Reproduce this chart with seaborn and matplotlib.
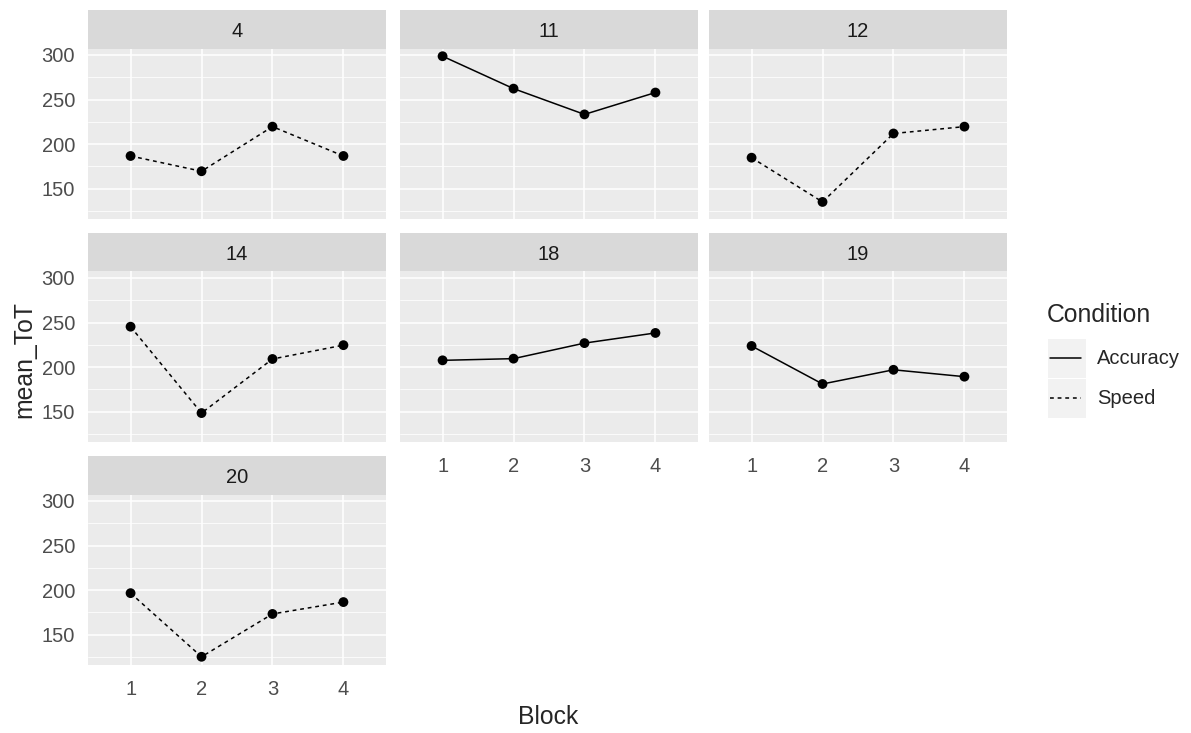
import numpy as np
import pandas as pd
import matplotlib
matplotlib.use("Agg")
import matplotlib.pyplot as plt
from matplotlib.patches import Rectangle
from matplotlib.lines import Line2D
import seaborn as sns

# dane
participants = [4, 11, 12, 14, 18, 19, 20]
conditions = ["Speed", "Accuracy", "Speed", "Speed", "Accuracy", "Accuracy", "Speed"]
blocks = [1, 2, 3, 4]
tot_4 = [186.7, 169.6, 219.6, 186.7]
tot_11 = [298.5, 262.2, 233.3, 257.8]
tot_12 = [184.8, 135.2, 211.9, 219.6]
tot_14 = [245.3, 148.5, 209.1, 224.6]
tot_18 = [207.6, 209.5, 226.9, 238.3]
tot_19 = [223.7, 181.1, 197.0, 189.3]
tot_20 = [196.6, 125.3, 173.3, 186.6]
all_tot = [tot_4, tot_11, tot_12, tot_14, tot_18, tot_19, tot_20]

rows = []
for p, c, vals in zip(participants, conditions, all_tot):
    for b, v in zip(blocks, vals):
        rows.append({"Participant": p, "Condition": c, "Block": b, "mean_ToT": v})
df = pd.DataFrame(rows)

sns.set_style("white")
plt.rcParams["font.family"] = ["Liberation Sans", "DejaVu Sans"]

W, H = 1191, 733
fig = plt.figure(figsize=(W / 100, H / 100), dpi=100)

def px_axes(x0, y0, x1, y1):
    return fig.add_axes([x0 / W, 1 - y1 / H, (x1 - x0) / W, (y1 - y0) / H])

col_left = [88, 400, 709]
panel_w = 298
row_top = [9.5, 232.5, 455.5]
strip_h = 39
panel_h = 170

lo, hi = df["mean_ToT"].min(), df["mean_ToT"].max()
pad = 0.05 * (hi - lo)
ylim = (lo - pad, hi + pad)

dashes = {"Accuracy": "", "Speed": (2.5, 2.5)}
bottom_panels = {18, 19, 20}
txt = 14.5
ttl = 17.8

for i, p in enumerate(participants):
    r, c = divmod(i, 3)
    x0 = col_left[c]
    st = row_top[r]
    # pasek z numerem uczestnika
    sax = px_axes(x0, st, x0 + panel_w, st + strip_h)
    sax.set_facecolor("#D9D9D9")
    sax.set_xticks([]); sax.set_yticks([])
    for s in sax.spines.values():
        s.set_visible(False)
    sax.text(0.5, 0.44, str(p), ha="center", va="center", fontsize=txt, color="#1A1A1A",
             transform=sax.transAxes)

    ax = px_axes(x0, st + strip_h, x0 + panel_w, st + strip_h + panel_h)
    ax.set_facecolor("#EBEBEB")
    for s in ax.spines.values():
        s.set_visible(False)
    ax.set_axisbelow(True)
    ax.set_xlim(0.4, 4.6)
    ax.set_ylim(*ylim)
    ax.set_xticks(blocks)
    ax.set_yticks([150, 200, 250, 300])
    ax.set_yticks([125, 175, 225, 275], minor=True)
    ax.grid(which="major", color="white", lw=1.1)
    ax.grid(which="minor", axis="y", color="white", lw=0.55)

    sub = df[df["Participant"] == p]
    sns.lineplot(data=sub, x="Block", y="mean_ToT", style="Condition",
                 style_order=["Accuracy", "Speed"], dashes=dashes, color="black",
                 lw=1.1, legend=False, ax=ax)
    sns.scatterplot(data=sub, x="Block", y="mean_ToT", color="black", s=50,
                    edgecolor="none", legend=False, zorder=3, ax=ax)
    ax.set_xlabel("")
    ax.set_ylabel("")

    ax.tick_params(which="major", length=4.3, width=0.8, color="#333333",
                   labelcolor="#4D4D4D", labelsize=txt)
    ax.tick_params(axis="y", pad=5)
    ax.tick_params(axis="x", pad=7)
    ax.tick_params(which="minor", length=0)
    if c != 0:
        ax.tick_params(axis="y", left=False, labelleft=False)
    if p not in bottom_panels:
        ax.tick_params(axis="x", bottom=False, labelbottom=False)

# tytuły osi
fig.text(548 / W, 1 - 717 / H, "Block", ha="center", va="center", fontsize=ttl)
fig.text(24 / W, 1 - 359 / H, "mean_ToT", ha="center", va="center", rotation=90,
         fontsize=ttl)

# legenda rysowana ręcznie w pikselach
lax = fig.add_axes([0, 0, 1, 1], zorder=-1)
lax.set_xlim(0, W)
lax.set_ylim(H, 0)
lax.axis("off")
lax.text(1047, 315, "Condition", ha="left", va="center", fontsize=ttl)
for name, y in [("Accuracy", 358), ("Speed", 398)]:
    lax.add_patch(Rectangle((1048, y - 19.5), 38, 39, facecolor="#F2F2F2", edgecolor="none"))
    style = "-" if name == "Accuracy" else (0, (2.5, 2.5))
    lax.add_line(Line2D([1050, 1081], [y, y], color="black", lw=1.1, linestyle=style))
    lax.text(1097, y, name, ha="left", va="center", fontsize=txt)

fig.savefig("out.png", dpi=100)
